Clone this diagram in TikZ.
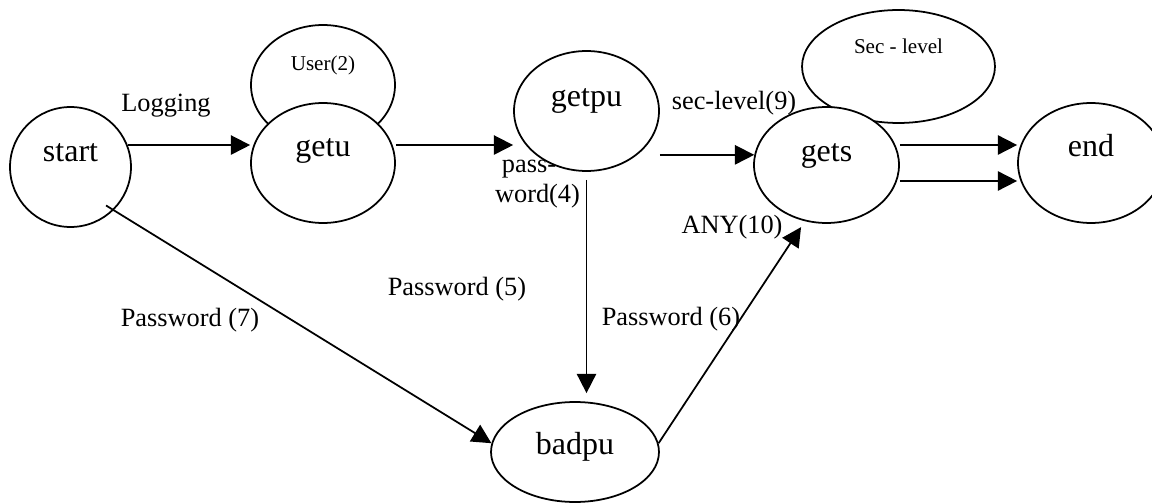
\documentclass[tikz,border=0pt]{standalone}
\usepackage{fontspec}
\setmainfont{Liberation Serif}
\usetikzlibrary{arrows.meta,shapes.geometric,calc}
\begin{document}
\begin{tikzpicture}[x=0.02cm,y=-0.02cm,
  st/.style={ellipse,draw,line width=1pt,fill=white,inner sep=0pt,
    font=\fontsize{18.2}{20}\selectfont,text height=0.4cm},
  sm/.style={ellipse,draw,line width=1pt,fill=white,inner sep=0pt,
    font=\fontsize{12}{14}\selectfont,text height=0.4cm},
  lbl/.style={anchor=base,inner sep=0pt,font=\fontsize{15}{17}\selectfont},
  arr/.style={line width=1pt,-{Triangle[length=11pt,width=11pt]}}]
\clip (0,0) rectangle (1152,503);
% self-loop ellipses (behind)
\node[sm,minimum width=2.88cm,minimum height=2.40cm,text depth=0.97cm] (userL) at (323,85) {User(2)};
\node[sm,minimum width=3.86cm,minimum height=2.26cm,text depth=0.90cm] (secL) at (898.5,66.5) {Sec - level};
% states
\node[st,minimum width=2.42cm,minimum height=2.40cm,text depth=0.61cm] (start) at (70.5,167) {start};
\node[st,minimum width=2.88cm,minimum height=2.40cm,text depth=0.64cm] (getu) at (323,163) {getu};
\node[st,minimum width=2.90cm,minimum height=2.40cm,text depth=0.56cm] (getpu) at (586.5,111) {getpu};
\node[st,minimum width=2.90cm,minimum height=2.32cm,text depth=0.53cm] (gets) at (826.5,165) {gets};
\node[st,minimum width=2.92cm,minimum height=2.40cm,text depth=0.64cm] (end) at (1091,163) {end};
\node[st,minimum width=3.36cm,minimum height=2.00cm,text depth=0.32cm] (badpu) at (575,452) {badpu};
% helper coordinates
\coordinate (e1) at ([yshift=0.36cm]end.west);
\coordinate (e2) at ([yshift=-0.36cm]end.west);
% connectors
\draw[arr] (start.21) -- (start.21 -| getu.west);
\draw[arr] (getu.east |- start.21) -- (getpu.west |- start.21);
\draw[arr] (getpu.east |- gets.172) -- (gets.172);
\draw[arr] (gets.east |- e1) -- (e1);
\draw[arr] (gets.east |- e2) -- (e2);
\draw[arr,shorten <=0.16cm,shorten >=0.16cm] (getpu.south) -- (getpu.south |- badpu.north);
\draw[arr,shorten <=-0.18cm] (start.-45) -- (badpu.174);
\draw[arr,shorten >=0.14cm] (badpu.6) -- (gets.249.5);
% labels
\node[lbl] (lLog) at (166,111.7) {Logging};
\node[lbl] (lSec) at (734,110) {sec-level(9)};
\node[lbl] (lPass) at (529,172.7) {pass-};
\node[lbl] (lWord) at (537.5,203) {word(4)};
\node[lbl] (lP5) at (457,295) {Password (5)};
\node[lbl] (lP6) at (671,325.7) {Password (6)};
\node[lbl] (lAny) at (732,234) {ANY(10)};
\node[lbl] (lP7) at (190,326) {Password (7)};
\end{tikzpicture}
\end{document}
